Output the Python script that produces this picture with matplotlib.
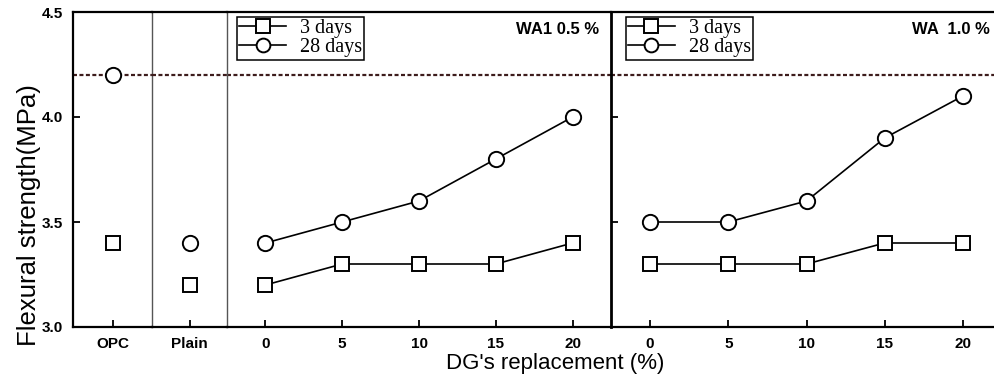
import matplotlib
matplotlib.use('Agg')
import matplotlib.pyplot as plt

# data
ref_labels = ["OPC", "Plain"]
ref_3d = [3.4, 3.2]
ref_28d = [4.2, 3.4]

dg = [0, 5, 10, 15, 20]
wa05_3d = [3.2, 3.3, 3.3, 3.3, 3.4]
wa05_28d = [3.4, 3.5, 3.6, 3.8, 4.0]
wa10_3d = [3.3, 3.3, 3.3, 3.4, 3.4]
wa10_28d = [3.5, 3.5, 3.6, 3.9, 4.1]

opc_line = 4.2
yticks = [3.0, 3.5, 4.0, 4.5]
titles = ["WA1 0.5 %", "WA  1.0 %"]

W, H = 994, 379
fig = plt.figure(figsize=(W / 100, H / 100), dpi=100)

top, bot = 12, 327


def add_ax(x0, x1):
    return fig.add_axes([x0 / W, 1 - bot / H, (x1 - x0) / W, (bot - top) / H])


ax_opc = add_ax(73, 152)
ax_pl = add_ax(152, 227)
ax_a = add_ax(227, 611)
ax_b = add_ax(611, 1002)
axes = [ax_opc, ax_pl, ax_a, ax_b]

thick = 1.6
thin = 1.0
grey = '#555555'
dash_col = '#3d1c1c'
tickfont = dict(family='Liberation Sans', weight='bold', size=11)

mk = dict(color='black', lw=1.2, markerfacecolor='white', markeredgecolor='black',
          markeredgewidth=1.4)

for ax in axes:
    ax.set_facecolor('none')
    ax.set_ylim(3.0, 4.5)
    ax.set_yticks(yticks)
    ax.axhline(opc_line, color=dash_col, lw=1.6, ls=(0, (1.8, 1.1)), zorder=1)
    ax.tick_params(direction='in', length=5, width=1.3, pad=7, colors='black')
    for s in ax.spines.values():
        s.set_linewidth(thick)
        s.set_color('black')
    ax.set_yticklabels([])

# reference panels (OPC, Plain)
for ax, lab, v3, v28 in zip([ax_opc, ax_pl], ref_labels, ref_3d, ref_28d):
    ax.plot([0], [v3], marker='s', ms=10.5, ls='none', **mk)
    ax.plot([0], [v28], marker='o', ms=11, ls='none', **mk)
    ax.set_xlim(-1, 1)
    ax.set_xticks([0])
    ax.set_xticklabels([lab], fontdict=tickfont)

ax_opc.set_yticklabels(['%.1f' % t for t in yticks], fontdict=tickfont)
ax_opc.spines['right'].set_linewidth(thin)
ax_opc.spines['right'].set_color(grey)
ax_pl.spines['left'].set_visible(False)
ax_pl.spines['right'].set_visible(False)
ax_pl.tick_params(axis='y', length=0)
ax_a.spines['left'].set_linewidth(thin)
ax_a.spines['left'].set_color(grey)
ax_a.spines['right'].set_visible(False)
ax_a.tick_params(axis='y', length=0)
ax_b.spines['left'].set_linewidth(2.0)

for ax, s3, s28, title, lx in [(ax_a, wa05_3d, wa05_28d, titles[0], 0.026),
                               (ax_b, wa10_3d, wa10_28d, titles[1], 0.038)]:
    ax.plot(dg, s3, marker='s', ms=10.5, label='3 days', **mk)
    ax.plot(dg, s28, marker='o', ms=11, label='28 days', **mk)
    ax.set_xlim(-2.5, 22.5)
    ax.set_xticks(dg)
    ax.set_xticklabels([str(d) for d in dg], fontdict=tickfont)
    leg = ax.legend(loc='upper left', bbox_to_anchor=(lx, 0.985), borderaxespad=0,
                    prop=dict(family='Liberation Serif', size=14.5), fancybox=False,
                    framealpha=1, edgecolor='black', handlelength=2.3,
                    handletextpad=0.7, labelspacing=0.0, borderpad=0.12, markerscale=0.9)
    leg.get_frame().set_linewidth(1.1)
    ax.text(1 - 12 / 384, 1 - 10 / 315, title, transform=ax.transAxes, ha='right', va='top',
            fontfamily='Liberation Sans', fontweight='bold', fontsize=12)

fig.text(555 / W, 1 - 364 / H, "DG's replacement (%)", ha='center', va='center',
         fontfamily='Liberation Sans', fontsize=16)
fig.text(29 / W, 1 - 215 / H, "Flexural strength(MPa)", ha='center', va='center',
         rotation=90, fontfamily='Liberation Sans', fontsize=18.5)

fig.savefig('out.png', dpi=100)
